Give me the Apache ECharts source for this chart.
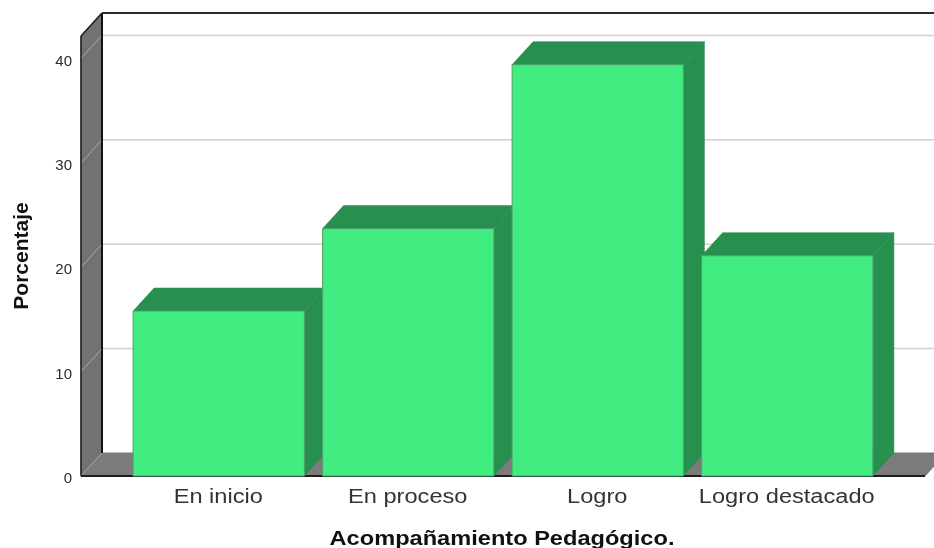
<!DOCTYPE html>
<html>
<head>
<meta charset="utf-8">
<style>html,body{margin:0;padding:0;background:#fff}#chart{width:934px;height:548px}</style>
<script src="https://cdn.jsdelivr.net/npm/echarts@6/dist/echarts.min.js"></script>
</head>
<body>
<div id="chart"></div>
<script>
const categories = ['En inicio', 'En proceso', 'Logro', 'Logro destacado'];
const percentages = [15.8, 23.7, 39.4, 21.1];
const gridTicks = [10, 20, 30, 40];
const axisTop = 42.15;
const xTitle = 'Acompañamiento Pedagógico.';
const yTitle = 'Porcentaje';

// Oblique offset of the back plane from the front plane, and wall overhang past the outer bands.
const DEPTH_X = 21;
const DEPTH_Y = -23;
const WALL_LEFT = 43;
const FLOOR_RIGHT = 43;
const TEXT_STRETCH = 1.18;
const FONT = '"Liberation Sans", Arial, sans-serif';

function poly(points, fill, stroke, lineWidth) {
  return {
    type: 'polygon',
    shape: { points },
    style: { fill, stroke: stroke || fill, lineWidth: lineWidth === undefined ? 1 : lineWidth }
  };
}
function line(x1, y1, x2, y2, stroke, lineWidth) {
  return { type: 'line', shape: { x1, y1, x2, y2 }, style: { stroke, lineWidth } };
}

// Left wall, floor and the dark outline of the plot box.
function renderFrame(params, api) {
  const cs = params.coordSys;
  const x0 = cs.x - WALL_LEFT;
  const x1 = cs.x + cs.width + FLOOR_RIGHT;
  const yBase = api.coord([0, 0])[1];
  const yTop = api.coord([0, axisTop])[1];
  const dx = DEPTH_X, dy = DEPTH_Y;
  return {
    type: 'group',
    children: [
      poly([[x0, yBase], [x0 + dx, yBase + dy], [x1 + dx, yBase + dy], [x1, yBase]], '#7b7b7b'),
      poly([[x0, yBase], [x0, yTop], [x0 + dx, yTop + dy], [x0 + dx, yBase + dy]], '#727272'),
      line(x0, yBase, x0 + dx, yBase + dy, '#a5a5a5', 1),
      line(x0, yBase, x0, yTop, '#1c1c1c', 1.5),
      line(x0, yTop, x0 + dx, yTop + dy, '#1c1c1c', 1.5),
      line(x0 + dx, yTop + dy, 940, yTop + dy, '#2a2a2a', 2),
      line(x0 + dx, yTop + dy, x0 + dx, yBase + dy, '#111111', 2),
      line(x0, yBase, x1, yBase, '#1c1c1c', 2)
    ]
  };
}

// Value gridline: a slanted stroke across the wall, then a level stroke along the back plane.
function renderGridline(params, api) {
  const cs = params.coordSys;
  const x0 = cs.x - WALL_LEFT;
  const y = api.coord([0, api.value(1)])[1];
  return {
    type: 'group',
    children: [
      line(x0 + 1, y - 1, x0 + DEPTH_X - 1, y + DEPTH_Y + 1, '#a8a8a8', 1),
      line(x0 + DEPTH_X + 1, y + DEPTH_Y, 940, y + DEPTH_Y, '#cfcfcf', 1.5)
    ]
  };
}

// Extruded bar: side and top faces behind the front face.
function renderBar(params, api) {
  const cx = api.coord([api.value(0), 0])[0];
  const yBase = api.coord([0, 0])[1];
  const yVal = api.coord([0, api.value(1)])[1];
  const half = api.size([1, 0])[0] * 0.904 / 2;
  const l = cx - half, r = cx + half;
  const dx = DEPTH_X, dy = DEPTH_Y;
  return {
    type: 'group',
    children: [
      poly([[r, yBase], [r + dx, yBase + dy], [r + dx, yVal + dy], [r, yVal]], '#27904f', '#3a8a58', 0.6),
      poly([[l, yVal], [l + dx, yVal + dy], [r + dx, yVal + dy], [r, yVal]], '#27904f', '#3a8a58', 0.6),
      poly([[l, yVal], [r, yVal], [r, yBase], [l, yBase]], '#41ec80', '#4f9f6c', 1)
    ]
  };
}

// Category names, set wider than the face's natural proportions.
function renderCategoryLabel(params, api) {
  const cx = api.coord([api.value(0), 0])[0];
  const yBase = api.coord([0, 0])[1];
  return {
    type: 'text',
    x: cx - 0.5,
    y: yBase + 21,
    scaleX: TEXT_STRETCH,
    style: {
      text: categories[api.value(0)],
      fill: '#333333',
      font: '20px ' + FONT,
      align: 'center',
      verticalAlign: 'middle'
    }
  };
}

const chart = echarts.init(document.getElementById('chart'), null, { renderer: 'canvas' });
chart.setOption({
  animation: false,
  backgroundColor: '#ffffff',
  grid: { left: 124, top: 36, width: 758, height: 440, outerBoundsMode: 'none' },
  graphic: [{
    type: 'text',
    x: 502,
    y: 539,
    scaleX: TEXT_STRETCH,
    silent: true,
    style: {
      text: xTitle,
      fill: '#111111',
      font: 'bold 20px ' + FONT,
      align: 'center',
      verticalAlign: 'middle'
    }
  }],
  xAxis: {
    type: 'category',
    data: categories,
    axisLine: { show: false },
    axisTick: { show: false },
    axisLabel: { show: false }
  },
  yAxis: {
    type: 'value',
    min: 0,
    max: axisTop,
    interval: 10,
    offset: WALL_LEFT,
    axisLine: { show: false },
    axisTick: { show: false },
    splitLine: { show: false },
    axisLabel: {
      color: '#2b2b2b',
      fontFamily: FONT,
      fontSize: 15,
      margin: 9,
      verticalAlign: 'top',
      lineHeight: 6,
      showMaxLabel: false,
      formatter: v => (v % 10 === 0 ? String(v) : '')
    },
    name: yTitle,
    nameLocation: 'middle',
    nameGap: 48,
    nameTextStyle: { color: '#111111', fontFamily: FONT, fontSize: 21, fontWeight: 'bold' }
  },
  series: [
    { type: 'custom', name: 'frame', clip: false, silent: true, renderItem: renderFrame,
      encode: { x: 0, y: 1 }, data: [[0, 0]] },
    { type: 'custom', name: 'gridlines', clip: false, silent: true, renderItem: renderGridline,
      encode: { x: 0, y: 1 }, data: gridTicks.map(v => [0, v]) },
    { type: 'custom', name: 'Porcentaje', clip: false, renderItem: renderBar,
      encode: { x: 0, y: 1 }, data: percentages.map((v, i) => [i, v]) },
    { type: 'custom', name: 'categoryLabels', clip: false, silent: true, renderItem: renderCategoryLabel,
      encode: { x: 0, y: 1 }, data: categories.map((c, i) => [i, 0]) }
  ]
});
</script>
</body>
</html>
